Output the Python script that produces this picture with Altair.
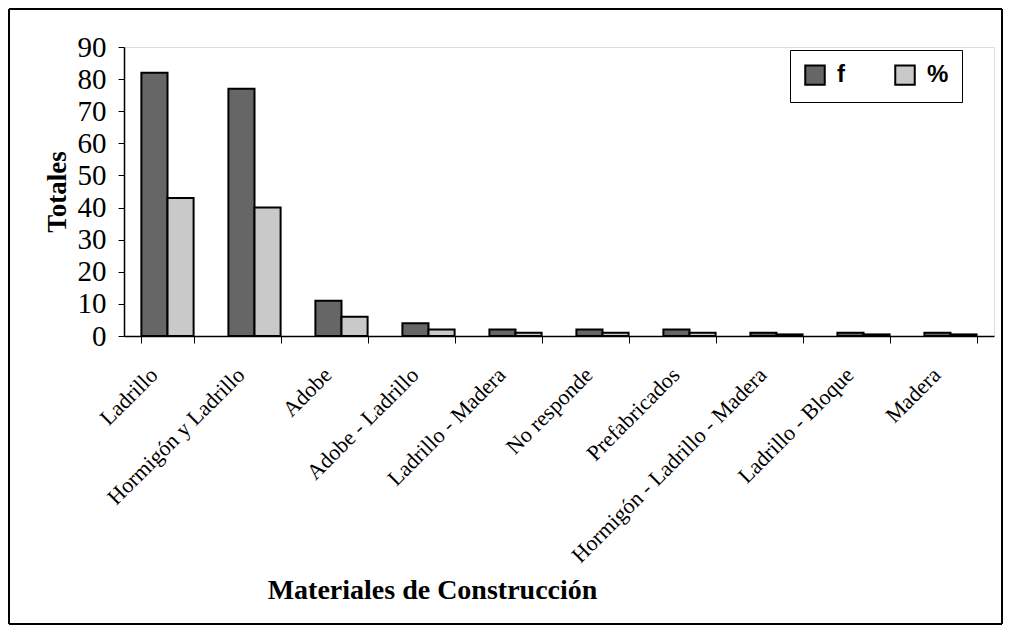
import altair as alt
import pandas as pd

categorias = ["Ladrillo", "Hormigón y Ladrillo", "Adobe", "Adobe - Ladrillo",
              "Ladrillo - Madera", "No responde", "Prefabricados",
              "Hormigón - Ladrillo - Madera", "Ladrillo - Bloque", "Madera"]
f_vals = [82, 77, 11, 4, 2, 2, 2, 1, 1, 1]
pct_vals = [43, 40, 6, 2, 1, 1, 1, 0.5, 0.5, 0.5]
series = ["f", "%"]
y_ticks = [0, 10, 20, 30, 40, 50, 60, 70, 80, 90]

rows = []
for c, a, b in zip(categorias, f_vals, pct_vals):
    rows.append({"Material": c, "Serie": "f", "Valor": a})
    rows.append({"Material": c, "Serie": "%", "Valor": b})
df = pd.DataFrame(rows)

serif = "Liberation Serif"

bars = alt.Chart(df).mark_bar(stroke="black", strokeWidth=2).encode(
    x=alt.X("Material:N", sort=categorias,
            scale=alt.Scale(paddingInner=0.4, paddingOuter=0.2),
            axis=alt.Axis(title="Materiales de Construcción", labelAngle=-45,
                          labelFont=serif, labelFontSize=22, labelColor="black",
                          labelAlign="right", labelBaseline="middle",
                          labelPadding=28, labelOffset=-14, labelLimit=0,
                          tickBand="extent", tickSize=7,
                          tickColor="black", domainColor="black", domainWidth=1.5,
                          titleFont=serif, titleFontSize=28, titleFontWeight="bold",
                          titleColor="black", titleX=308, titleY=262,
                          titleAlign="center", titleBaseline="alphabetic")),
    xOffset=alt.XOffset("Serie:N", sort=series),
    y=alt.Y("Valor:Q", scale=alt.Scale(domain=[0, 90]),
            axis=alt.Axis(title="Totales", values=y_ticks, grid=False,
                          labelFont=serif, labelFontSize=29, labelColor="black",
                          labelPadding=12, tickSize=6, tickColor="black",
                          domainColor="black", domainWidth=1.5,
                          titleFont=serif, titleFontSize=27, titleFontWeight="bold",
                          titleColor="black", titlePadding=6)),
    color=alt.Color("Serie:N", sort=series,
                    scale=alt.Scale(domain=series, range=["#666666", "#c9c9c9"]),
                    legend=alt.Legend(title=None, orient="none", legendX=666, legendY=3,
                                      direction="horizontal", symbolType="square",
                                      symbolSize=380, symbolStrokeColor="black",
                                      symbolStrokeWidth=2, labelFont="Liberation Sans",
                                      labelFontSize=24, labelFontWeight="bold",
                                      labelColor="black", labelOffset=10,
                                      columnPadding=46,
                                      padding=13, strokeColor="black",
                                      fillColor="white")),
)

frame = alt.Chart(df).mark_rect(fill=None, stroke="black", strokeWidth=1).encode(
    x=alt.value(-115), x2=alt.value(878), y=alt.value(-38), y2=alt.value(577)
)

chart = alt.layer(frame, bars).properties(
    width=870, height=289,
    autosize=alt.AutoSizeParams(type="none"),
    padding={"left": 116, "top": 39, "right": 10, "bottom": 290},
).configure_view(stroke=None).configure(background="white")

chart.save("out.html", embed_options={"renderer": "svg", "actions": False})
